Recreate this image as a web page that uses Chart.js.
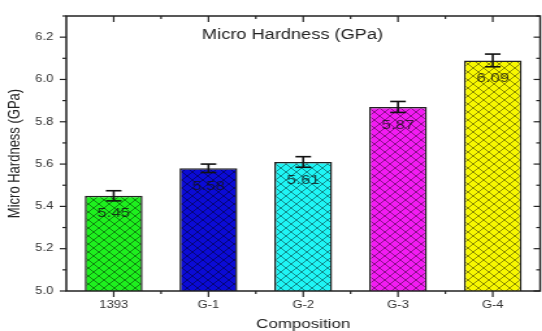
<!DOCTYPE html>
<html lang="en">

<head>
    <meta charset="UTF-8">
    <title>Micro Hardness</title>
    <style>
        * {
            margin: 0;
            padding: 0;
            box-sizing: border-box;
        }

        html,
        body {
            width: 542px;
            height: 331px;
            overflow: hidden;
            background: #fff;
        }

        /* the source figure is stretched sideways, so draw narrow and widen */
        .container {
            width: 417px;
            height: 331px;
            transform: scaleX(1.3);
            transform-origin: 0 0;
        }
    </style>
    <script src="https://cdn.jsdelivr.net/npm/chart.js"></script>
</head>

<body>
    <div class="container">
        <canvas id="hardChart"></canvas>
    </div>

    <script>
        const categories = ['1393', 'G-1', 'G-2', 'G-3', 'G-4'];
        const hardness = [5.45, 5.58, 5.61, 5.87, 6.09];
        const errors = [0.024, 0.02, 0.025, 0.026, 0.03];
        const barColors = ['#1ef01e', '#0b0bd6', '#1ff5f5', '#f21cf2', '#f7f700'];
        const yTicks = [5.0, 5.2, 5.4, 5.6, 5.8, 6.0, 6.2];

        Chart.defaults.font.family = '"Liberation Sans", Arial, sans-serif';

        const ctx = document.getElementById('hardChart').getContext('2d');

        function hatch(color) {
            const c = document.createElement('canvas');
            c.width = 8;
            c.height = 8;
            const g = c.getContext('2d');
            g.fillStyle = color;
            g.fillRect(0, 0, 8, 8);
            g.strokeStyle = 'rgba(0,0,0,0.55)';
            g.lineWidth = 0.8;
            g.beginPath();
            g.moveTo(-1, -1); g.lineTo(9, 9);
            g.moveTo(9, -1); g.lineTo(-1, 9);
            g.stroke();
            return ctx.createPattern(c, 'repeat');
        }

        function line(c, x1, y1, x2, y2) {
            c.beginPath();
            c.moveTo(x1, y1);
            c.lineTo(x2, y2);
            c.stroke();
        }

        // box frame with inner/outer tick marks like the original plot
        const framePlugin = {
            id: 'frame',
            afterDraw(chart) {
                const { ctx: c, chartArea: a, scales: { x, y } } = chart;
                c.save();
                c.strokeStyle = '#222';
                c.lineWidth = 1.5;
                c.strokeRect(a.left, a.top, a.right - a.left, a.bottom - a.top);
                c.lineWidth = 1.2;
                categories.forEach((cat, i) => {
                    const px = x.getPixelForValue(i);
                    line(c, px, a.bottom, px, a.bottom + 6);
                    line(c, px, a.top, px, a.top + 6);
                    if (i > 0) {
                        const mx = (px + x.getPixelForValue(i - 1)) / 2;
                        line(c, mx, a.bottom, mx, a.bottom + 3);
                        line(c, mx, a.top, mx, a.top + 3);
                    }
                });
                for (let k = 0; k <= 13; k++) {
                    const py = y.getPixelForValue(5 + k * 0.1);
                    const len = k % 2 === 0 ? 5 : 3;
                    line(c, a.left - len, py, a.left, py);
                    line(c, a.right - len, py, a.right, py);
                }
                c.restore();
            }
        };

        const errorPlugin = {
            id: 'errors',
            afterDatasetsDraw(chart) {
                const { ctx: c, scales: { x, y } } = chart;
                c.save();
                c.strokeStyle = '#111';
                c.lineWidth = 1.6;
                hardness.forEach((v, i) => {
                    const px = x.getPixelForValue(i);
                    const hi = y.getPixelForValue(v + errors[i]);
                    const lo = y.getPixelForValue(v - errors[i]);
                    line(c, px, hi, px, lo);
                    line(c, px - 6, hi, px + 6, hi);
                    line(c, px - 6, lo, px + 6, lo);
                });
                // value labels just under the bar tops
                c.fillStyle = 'rgba(20,20,20,0.8)';
                c.font = '13px "Liberation Sans", Arial, sans-serif';
                c.textAlign = 'center';
                c.textBaseline = 'middle';
                hardness.forEach((v, i) => {
                    c.fillText(v.toFixed(2), x.getPixelForValue(i), y.getPixelForValue(v) + 18);
                });
                // title inside the plot area
                c.fillStyle = '#222';
                c.font = '14px "Liberation Sans", Arial, sans-serif';
                c.fillText('Micro Hardness (GPa)', 225, 35);
                c.restore();
            }
        };

        new Chart(ctx, {
            type: 'bar',
            data: {
                labels: categories,
                datasets: [{
                    data: hardness,
                    backgroundColor: barColors.map(hatch),
                    borderColor: '#222',
                    borderWidth: 1.5,
                    barPercentage: 0.61,
                    categoryPercentage: 1
                }]
            },
            options: {
                responsive: true,
                maintainAspectRatio: false,
                animation: false,
                layout: { padding: { top: 14, right: 1.5 } },
                plugins: {
                    legend: { display: false },
                    tooltip: { enabled: false }
                },
                scales: {
                    x: {
                        grid: { drawOnChartArea: false, drawTicks: false },
                        border: { display: false },
                        ticks: { color: '#333', font: { size: 10 }, padding: 8 },
                        title: {
                            display: true,
                            text: 'Composition',
                            color: '#222',
                            font: { size: 13, lineHeight: 1 },
                            padding: { top: 0, bottom: 0 }
                        },
                        afterFit(scale) { scale.height = 40; }
                    },
                    y: {
                        min: 5.0,
                        max: 6.3,
                        grid: { drawOnChartArea: false, drawTicks: false },
                        border: { display: false },
                        afterBuildTicks(scale) { scale.ticks = yTicks.map(v => ({ value: v })); },
                        ticks: {
                            color: '#333',
                            font: { size: 10 },
                            padding: 10,
                            callback: v => Number(v).toFixed(1)
                        },
                        title: {
                            display: true,
                            text: 'Micro Hardness (GPa)',
                            color: '#222',
                            font: { size: 13 },
                            padding: { top: 4, bottom: 0 }
                        },
                        afterFit(scale) { scale.width = 51; }
                    }
                }
            },
            plugins: [framePlugin, errorPlugin]
        });
    </script>
</body>

</html>
